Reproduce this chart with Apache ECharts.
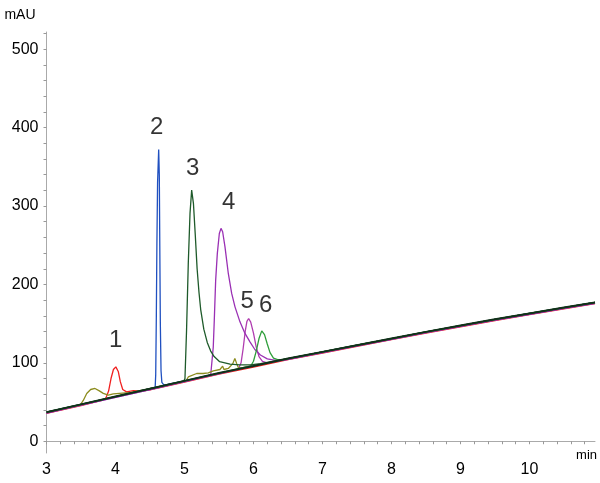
<!DOCTYPE html>
<html><head><meta charset="utf-8">
<script src="https://cdn.jsdelivr.net/npm/echarts@6/dist/echarts.min.js"></script>
<style>html,body{margin:0;padding:0;background:#fff}#c{width:600px;height:483px}</style>
</head><body><div id="c"></div>
<script>
// ---- data ----
const baselineT = [3.0,3.5,4.0,4.5,5.0,5.5,6.0,6.5,7.0,7.5,8.0,8.5,9.0,9.5,10.0,10.5,10.95];
const baselineV = [37,47,57,67,77,87,96,105.5,114,122.5,131,139.5,147.5,155.5,163,170.5,177];

const oliveA = [[3.49,46.5],[3.533,52],[3.583,61],[3.64,66],[3.703,67.3],[3.766,64.2],[3.823,61],[3.896,58.7],[3.968,60.5],[4.1,61.5],[4.21,62]];
const oliveB = [[5.03,78],[5.055,82],[5.08,84],[5.177,86.4],[5.27,86.4],[5.345,87.2],[5.418,89.7],[5.514,91.5],[5.553,95.7],[5.572,91.5],[5.635,92.8],[5.7,99],[5.73,105.5],[5.757,99],[5.78,94],[5.82,93.5]];
const peak1 = [[3.80,52],[3.86,55],[3.90,64],[3.935,80],[3.97,91.5],[4.005,94.9],[4.04,89],[4.07,76],[4.105,66],[4.16,63],[4.26,64.5],[4.38,64]];
const peak2 = [[4.575,68.5],[4.583,85],[4.592,160],[4.60,250],[4.61,330],[4.626,372],[4.635,340],[4.642,250],[4.65,150],[4.66,90],[4.672,75],[4.70,72],[4.75,72.5]];
const peak3 = [[4.99,76.8],[5.007,80],[5.03,141.7],[5.055,226.8],[5.08,290.6],[5.104,320.4],[5.13,303],[5.157,262],[5.183,220],[5.21,190],[5.235,168],[5.28,143],[5.33,126],[5.38,115],[5.43,108],[5.51,101.5],[5.66,98.3],[5.80,97.5],[5.95,97.4],[6.1,99]];
const peak4 = [[5.38,84.5],[5.394,85],[5.417,120],[5.432,154.5],[5.452,205.5],[5.476,239.6],[5.505,265],[5.529,271.5],[5.553,267.2],[5.587,248],[5.635,214],[5.684,188.5],[5.732,171.4],[5.804,152.3],[5.877,137.5],[5.949,126.8],[6.02,117],[6.1,110],[6.2,105],[6.3,103.5],[6.42,103.5]];
const peak5 = [[5.78,92],[5.82,100],[5.85,118],[5.88,140],[5.905,153],[5.93,156.6],[5.96,152],[6.0,138],[6.04,120],[6.08,108],[6.13,102],[6.2,100]];
const peak6 = [[5.96,96],[6.0,102],[6.04,115],[6.08,131],[6.12,140.8],[6.16,136],[6.2,124],[6.24,113],[6.29,106],[6.35,104],[6.42,104]];

const peakNames = ['1','2','3','4','5','6'];
const peakLabelT = [4.004,4.597,5.12,5.64,5.909,6.178];
const peakLabelV = [128.9,400,348,304.4,179,173.6];

const xLabelValues = [3,4,5,6,7,8,9,10];
const yLabelValues = [0,100,200,300,400,500];

// baseline drift offsets of individual traces
const offRed = -1.5, offPurple = -1, offMagenta = -1;

// ---- build ----
function build(peaks, off) {
  const pts = [];
  baselineT.forEach((t, i) => {
    const inside = peaks.some(p => t >= p[0][0] && t <= p[p.length-1][0]);
    if (!inside) pts.push([t, baselineV[i] + off]);
  });
  peaks.forEach(p => p.forEach(q => pts.push([q[0], q[1]])));
  pts.sort((a, b) => a[0] - b[0]);
  return pts;
}
const xTicks = []; for (let k = 0; k <= 39; k++) xTicks.push(+(3 + k * 0.2).toFixed(1));
const yTicks = []; for (let k = 0; k <= 26; k++) yTicks.push(k * 20);

const FONT = "'Liberation Sans Narrow','Liberation Sans',Arial,sans-serif";
function line(name, data, color, w) {
  return { name, type: 'line', data, symbol: 'none', showSymbol: false, smooth: false,
    lineStyle: { color, width: w || 1.3 }, itemStyle: { color }, silent: true, z: 2 };
}

const chart = echarts.init(document.getElementById('c'), null, { renderer: 'canvas' });
chart.setOption({
  animation: false,
  backgroundColor: '#fff',
  grid: { left: 46.5, right: 5, top: 32, bottom: 30, outerBoundsMode: 'none', containLabel: false },
  xAxis: {
    type: 'value', min: 3, max: 10.95,
    name: 'min', nameLocation: 'end', nameGap: 2,
    nameTextStyle: { fontFamily: FONT, fontSize: 13, color: '#000', align: 'right', verticalAlign: 'top', padding: [8, 0, 0, 0] },
    axisLine: { show: true, lineStyle: { color: '#aaa', width: 1 } },
    axisTick: { show: true, length: 3, customValues: xTicks, lineStyle: { color: '#999' } },
    axisLabel: { customValues: xLabelValues, fontFamily: FONT, fontSize: 16, color: '#000', margin: 9 },
    splitLine: { show: false }
  },
  yAxis: {
    type: 'value', min: -15, max: 522,
    name: 'mAU', nameLocation: 'end', nameGap: 10,
    nameTextStyle: { fontFamily: FONT, fontSize: 14, color: '#000', align: 'right', verticalAlign: 'bottom', padding: [0, 11, 0, 0] },
    axisLine: { show: true, lineStyle: { color: '#aaa', width: 1 } },
    axisTick: { show: true, length: 3, customValues: yTicks, lineStyle: { color: '#999' } },
    axisLabel: { customValues: yLabelValues, fontFamily: FONT, fontSize: 16, color: '#000', margin: 8 },
    splitLine: { show: false }
  },
  series: [
    line('red', build([peak1], offRed), '#f02020'),
    line('magenta', build([peak5], offMagenta), '#b03cb0'),
    line('purple', build([peak4], offPurple), '#9a30b4'),
    line('olive', build([oliveA, oliveB], 0), '#8c8c1e'),
    line('blue', build([peak2], 0), '#2050c0'),
    line('green', build([peak6], 0), '#2e9e3a'),
    line('darkgreen', build([peak3], 0), '#1e5a2a'),
    line('baseline', build([], 0), '#12301a', 2),
    {
      name: 'labels', type: 'scatter', symbolSize: 1, itemStyle: { color: 'rgba(0,0,0,0)' }, silent: true, z: 5,
      data: peakNames.map((n, i) => [peakLabelT[i], peakLabelV[i], n]),
      label: { show: true, position: 'inside', formatter: p => p.data[2], fontFamily: FONT, fontSize: 24, color: '#000' }
    }
  ]
});
</script>
</body></html>
